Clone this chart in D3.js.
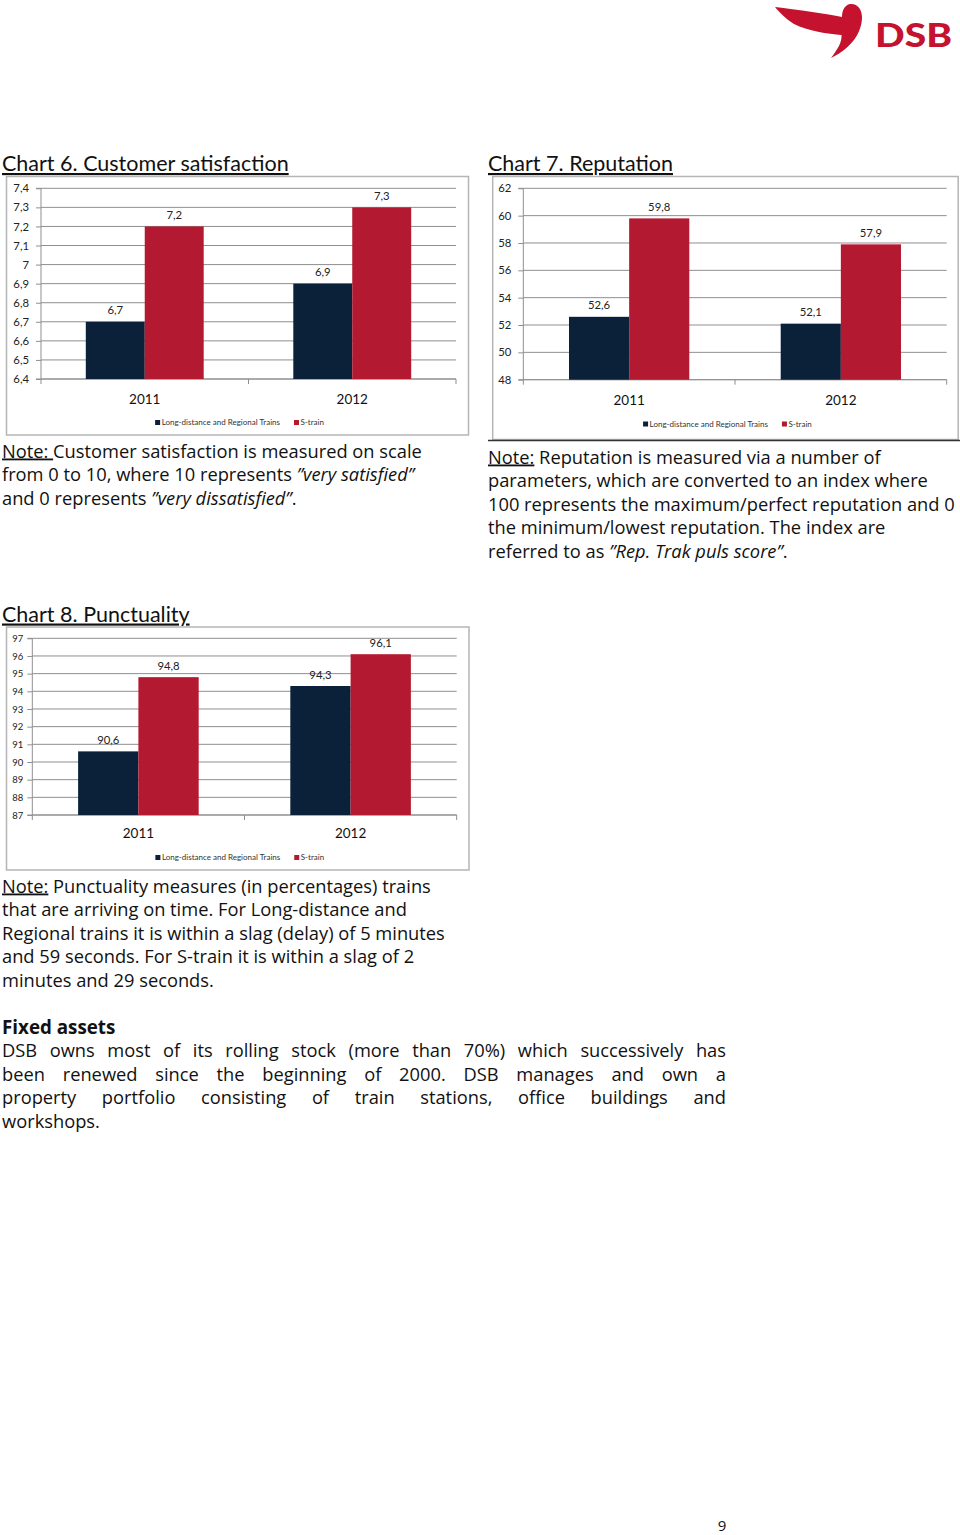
<!DOCTYPE html>
<html><head><meta charset="utf-8">
<script src="https://cdn.jsdelivr.net/npm/d3@7"></script>
<style>
body{margin:0;background:#fff}
svg{display:block}
text{font-family:Lato,"Open Sans",sans-serif}
text.body{font-family:"Open Sans",Lato,sans-serif}
</style>
</head><body>
<svg id="page" width="960" height="1535"></svg>
<script>
// ---------- data ----------
const categories = ["2011", "2012"];
const seriesNames = ["Long-distance and Regional Trains", "S-train"];

const satisfactionLong = [6.7, 6.9];
const satisfactionS = [7.2, 7.3];
const satisfactionTicks = [6.4, 6.5, 6.6, 6.7, 6.8, 6.9, 7.0, 7.1, 7.2, 7.3, 7.4];

const reputationLong = [52.6, 52.1];
const reputationS = [59.8, 57.9];
const reputationTicks = [48, 50, 52, 54, 56, 58, 60, 62];

const punctualityLong = [90.6, 94.3];
const punctualityS = [94.8, 96.1];
const punctualityTicks = [87, 88, 89, 90, 91, 92, 93, 94, 95, 96, 97];

const seriesColors = ["#0b2039", "#b31a31"];

// ---------- helpers ----------
const svg = d3.select("#page");
const comma = s => s.replace(".", ",");
const fmtTick = v => comma(d3.format("~g")(v));
const fmtVal = v => comma(d3.format(".1f")(v));

function drawChart(cfg) {
  const g = svg.append("g");
  // title
  g.append("text").attr("x", cfg.titleX).attr("y", cfg.titleY)
    .attr("font-size", 21.5).style("text-decoration", "underline")
    .attr("fill", "#111").text(cfg.title);
  // frame
  const f = cfg.frame;
  g.append("rect").attr("x", f.x).attr("y", f.y).attr("width", f.w).attr("height", f.h)
    .attr("fill", "none").attr("stroke", "#b5b5b5").attr("stroke-width", 1.5);

  const p = cfg.plot;
  const y = d3.scaleLinear().domain(d3.extent(cfg.ticks)).range([p.y1, p.y0]);
  const x = d3.scaleBand().domain(categories).range([p.x0, p.x1]).padding(0);
  const xs = d3.scaleBand().domain(seriesNames).range([0, x.bandwidth()])
    .paddingInner(0).paddingOuter(0.76);

  // gridlines
  g.append("g").selectAll("line").data(cfg.ticks).join("line")
    .attr("x1", p.x0).attr("x2", p.x1)
    .attr("y1", d => y(d)).attr("y2", d => y(d))
    .attr("stroke", "#8f8f8f").attr("stroke-width", 1);

  // y axis
  const ya = g.append("g").attr("transform", `translate(${p.x0},0)`)
    .call(d3.axisLeft(y).tickValues(cfg.ticks).tickSize(5).tickPadding(cfg.tickPad).tickFormat(fmtTick));
  ya.selectAll("path,line").attr("stroke", "#8f8f8f");
  ya.select(".domain").attr("d", `M-5,${p.y0}H0V${p.y1}H-5`);
  ya.selectAll("text").attr("font-size", cfg.tickFont).attr("fill", "#222")
    .style("font-family", "Lato,sans-serif");

  // x axis
  g.append("line").attr("x1", p.x0).attr("x2", p.x1).attr("y1", p.y1).attr("y2", p.y1)
    .attr("stroke", "#8f8f8f");
  const edges = categories.map(c => x(c)).concat([p.x1]);
  g.append("g").selectAll("line").data(edges).join("line")
    .attr("x1", d => d).attr("x2", d => d).attr("y1", p.y1).attr("y2", p.y1 + 5)
    .attr("stroke", "#8f8f8f");
  g.append("g").selectAll("text").data(categories).join("text")
    .attr("x", d => x(d) + x.bandwidth() / 2).attr("y", cfg.yearY)
    .attr("text-anchor", "middle").attr("font-size", 13.5).attr("fill", "#111")
    .text(d => d);

  // bars
  const rows = categories.map((c, i) => ({c, vals: [cfg.long[i], cfg.s[i]]}));
  const grp = g.append("g").selectAll("g").data(rows).join("g")
    .attr("transform", d => `translate(${x(d.c)},0)`);
  grp.selectAll("rect").data(d => d.vals.map((v, j) => ({v, s: seriesNames[j], j})))
    .join("rect")
    .attr("x", d => xs(d.s)).attr("width", xs.bandwidth())
    .attr("y", d => y(d.v)).attr("height", d => p.y1 - y(d.v))
    .attr("fill", d => seriesColors[d.j]);
  grp.selectAll("text").data(d => d.vals.map((v, j) => ({v, s: seriesNames[j], j})))
    .join("text")
    .attr("x", d => xs(d.s) + xs.bandwidth() / 2).attr("y", d => y(d.v) - 7.5)
    .attr("text-anchor", "middle").attr("font-size", 11.3).attr("fill", "#222")
    .text(d => fmtVal(d.v));

  // legend
  const lg = g.append("g");
  let cx = 0;
  seriesNames.forEach((n, i) => {
    const it = lg.append("g").attr("transform", `translate(${cx},0)`);
    it.append("rect").attr("x", 0).attr("y", -5).attr("width", 5).attr("height", 5)
      .attr("fill", seriesColors[i]);
    const t = it.append("text").attr("x", 6.5).attr("y", 0).attr("font-size", 8)
      .attr("fill", "#333").text(n);
    cx += 6.5 + t.node().getComputedTextLength() + 14;
  });
  const total = cx - 14;
  lg.attr("transform", `translate(${f.x + f.w / 2 + 2 - total / 2},${cfg.legendY})`);
}

drawChart({
  title: "Chart 6. Customer satisfaction", titleX: 2, titleY: 171,
  frame: {x: 6.5, y: 176.5, w: 462, h: 258.5},
  plot: {x0: 41, x1: 456, y0: 188.3, y1: 379},
  long: satisfactionLong, s: satisfactionS, ticks: satisfactionTicks,
  tickFont: 11.3, tickPad: 7, yearY: 403.5, legendY: 425
});
drawChart({
  title: "Chart 7. Reputation", titleX: 488, titleY: 171,
  frame: {x: 492.7, y: 176.5, w: 465.5, h: 263},
  plot: {x0: 523.3, x1: 946.7, y0: 188.3, y1: 379.7},
  long: reputationLong, s: reputationS, ticks: reputationTicks,
  tickFont: 11.3, tickPad: 7, yearY: 404.5, legendY: 426.5
});
drawChart({
  title: "Chart 8. Punctuality", titleX: 2, titleY: 621.5,
  frame: {x: 6.5, y: 627, w: 462.5, h: 243},
  plot: {x0: 32.3, x1: 456.7, y0: 638.3, y1: 815},
  long: punctualityLong, s: punctualityS, ticks: punctualityTicks,
  tickFont: 9.5, tickPad: 4, yearY: 838, legendY: 860
});

// dark rule under chart 7
svg.append("line").attr("x1", 488).attr("x2", 960).attr("y1", 440.5).attr("y2", 440.5)
  .attr("stroke", "#333").attr("stroke-width", 1.5);

// ---------- notes ----------
const U = "u", I = "i";
const notes = [
  {x: 2, y: 457.5, lines: [
    [["Note: ", U], ["Customer satisfaction is measured on scale"]],
    [["from 0 to 10, where 10 represents "], ["\u201dvery satisfied\u201d", I]],
    [["and 0 represents "], ["\u201dvery dissatisfied\u201d", I], ["."]]
  ]},
  {x: 488, y: 463.5, lines: [
    [["Note:", U], [" Reputation is measured via a number of"]],
    [["parameters, which are converted to an index where"]],
    [["100 represents the maximum/perfect reputation and 0"]],
    [["the minimum/lowest reputation. The index are"]],
    [["referred to as "], ["\u201dRep. Trak puls score\u201d", I], ["."]]
  ]},
  {x: 2, y: 892.5, lines: [
    [["Note:", U], [" Punctuality measures (in percentages) trains"]],
    [["that are arriving on time. For Long-distance and"]],
    [["Regional trains it is within a slag (delay) of 5 minutes"]],
    [["and 59 seconds. For S-train it is within a slag of 2"]],
    [["minutes and 29 seconds."]]
  ]}
];
const lineH = 23.5;
const bodySize = 18.3;
notes.forEach(n => {
  n.lines.forEach((segs, k) => {
    const t = svg.append("text").attr("class", "body").attr("x", n.x).attr("y", n.y + k * lineH)
      .attr("font-size", bodySize).attr("fill", "#111")
      .style("white-space", "pre");
    segs.forEach(([s, st]) => {
      const ts = t.append("tspan").text(s);
      if (st === U) ts.style("text-decoration", "underline");
      if (st === I) ts.style("font-style", "italic");
    });
  });
});

// ---------- fixed assets ----------
svg.append("text").attr("class", "body").attr("x", 2).attr("y", 1033.5).attr("font-size", 18.8)
  .attr("font-weight", "bold").attr("fill", "#111").text("Fixed assets");
const paraLines = [
  "DSB owns most of its rolling stock (more than 70%) which successively has",
  "been renewed since the beginning of 2000. DSB manages and own a",
  "property portfolio consisting of train stations, office buildings and",
  "workshops."
];
const paraX0 = 2, paraX1 = 726;
paraLines.forEach((ln, k) => {
  const yy = 1057 + k * lineH;
  const words = ln.split(" ");
  const last = k === paraLines.length - 1;
  const tmp = words.map(w => {
    const t = svg.append("text").attr("class", "body").attr("y", yy)
      .attr("font-size", bodySize).attr("fill", "#111").text(w);
    return {t, w: t.node().getComputedTextLength()};
  });
  const sum = d3.sum(tmp, d => d.w);
  const gap = last ? 4.8 : (paraX1 - paraX0 - sum) / (words.length - 1);
  let xx = paraX0;
  tmp.forEach(d => { d.t.attr("x", xx); xx += d.w + gap; });
});

// page number
svg.append("text").attr("class", "body").attr("x", 722).attr("y", 1531).attr("text-anchor", "middle")
  .attr("font-size", 15).attr("fill", "#111").text("9");

// ---------- logo ----------
svg.append("path")
  .attr("d", "M775,7 C792,9 815,12 837,16 L842,17 C842,10 845,5 850,4 C857,3 862,9 862,17 C862,32 852,48 831,58 C838,49 842,42 841.5,35 C828,34 808,31 794,24 C786,19 779,12 775,7 Z")
  .attr("fill", "#c4122f");
svg.append("text").attr("x", 875).attr("y", 47).attr("font-size", 32)
  .attr("font-weight", 900).attr("fill", "#c4122f")
  .attr("textLength", 77).attr("lengthAdjust", "spacingAndGlyphs").text("DSB");
</script>
</body></html>
